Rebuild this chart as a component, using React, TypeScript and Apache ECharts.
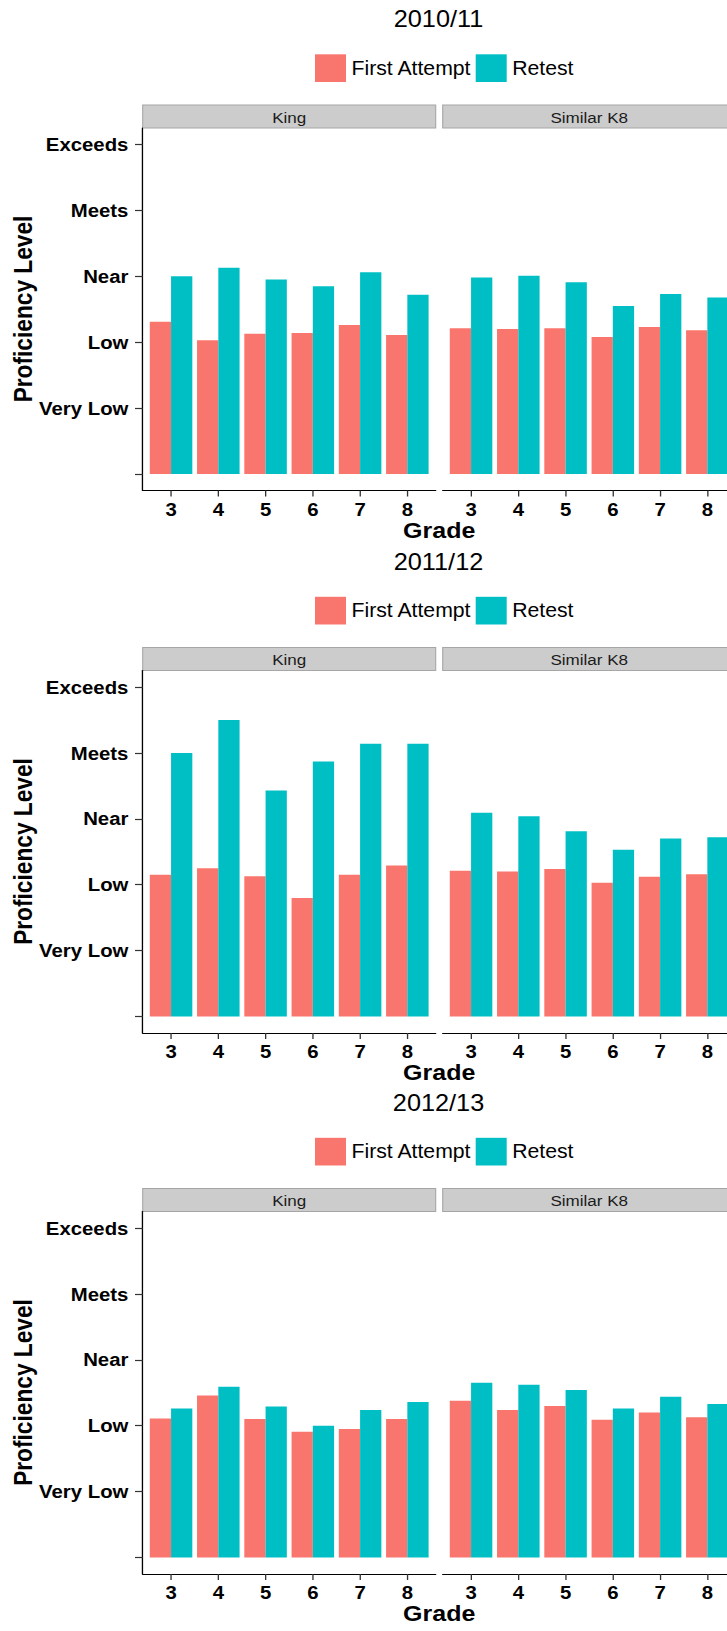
import React, { useEffect, useRef } from 'react';
import * as echarts from 'echarts';

// ---- data ----
const years = ['2010/11', '2011/12', '2012/13'];
const panels = ['King', 'Similar K8'];
const grades = [3, 4, 5, 6, 7, 8];
const levelValues = [0, 1, 2, 3, 4, 5];
const levelLabels = ['', 'Very Low', 'Low', 'Near', 'Meets', 'Exceeds'];
const seriesNames = ['First Attempt', 'Retest'];

const king1011First = [2.31, 2.03, 2.13, 2.14, 2.26, 2.11];
const king1011Retest = [3.0, 3.13, 2.95, 2.85, 3.06, 2.72];
const similar1011First = [2.21, 2.2, 2.21, 2.08, 2.23, 2.18];
const similar1011Retest = [2.98, 3.01, 2.91, 2.55, 2.73, 2.68];

const king1112First = [2.15, 2.25, 2.13, 1.8, 2.15, 2.29];
const king1112Retest = [4.0, 4.5, 3.43, 3.87, 4.14, 4.14];
const similar1112First = [2.21, 2.2, 2.24, 2.03, 2.12, 2.16];
const similar1112Retest = [3.09, 3.04, 2.81, 2.53, 2.7, 2.72];

const king1213First = [2.11, 2.46, 2.1, 1.91, 1.95, 2.1];
const king1213Retest = [2.26, 2.59, 2.29, 2.0, 2.24, 2.36];
const similar1213First = [2.38, 2.24, 2.3, 2.09, 2.2, 2.13];
const similar1213Retest = [2.65, 2.62, 2.54, 2.26, 2.44, 2.33];

const blockData = [
  [[king1011First, king1011Retest], [similar1011First, similar1011Retest]],
  [[king1112First, king1112Retest], [similar1112First, similar1112Retest]],
  [[king1213First, king1213Retest], [similar1213First, similar1213Retest]],
];

// ---- layout / style ----
const S = 1.1; // horizontal stretch of the reference image
const X = (v: number) => v / S;
const FONT = '"Liberation Sans", Arial, Helvetica, sans-serif';
const COLORS = ['#F8766D', '#00BFC4'];
const BLOCK_TOPS = [0, 542.5, 1083.5];
const PLOT_LEFT = [142.7, 442.7];
const PLOT_W = 293;
const PLOT_TOP = 128;
const PLOT_H = 362.5;
const X_MIN = 2.4;
const X_MAX = 8.6;

function buildOption() {
  const grid: any[] = [];
  const xAxis: any[] = [];
  const yAxis: any[] = [];
  const series: any[] = [];
  const legend: any[] = [];
  const graphic: any[] = [];
  const barWidth = X((PLOT_W / (X_MAX - X_MIN)) * 0.45);

  years.forEach((year, b) => {
    const T = BLOCK_TOPS[b];
    graphic.push({
      type: 'text',
      x: X(438.5),
      y: T + 19,
      style: { text: year, fontSize: 23, fontFamily: FONT, fill: '#000', align: 'center', verticalAlign: 'middle' },
    });
    graphic.push({
      type: 'text',
      x: X(23.3),
      y: T + 309,
      rotation: Math.PI / 2,
      style: { text: 'Proficiency Level', fontSize: 22.7, fontWeight: 'bold', fontFamily: FONT, fill: '#000', align: 'center', verticalAlign: 'middle' },
    });
    graphic.push({
      type: 'text',
      x: X(439.2),
      y: T + 529.5,
      style: { text: 'Grade', fontSize: 22.7, fontWeight: 'bold', fontFamily: FONT, fill: '#000', align: 'center', verticalAlign: 'middle' },
    });
    legend.push({
      left: X(315),
      top: T + 54.3,
      orient: 'horizontal',
      padding: 0,
      itemWidth: X(31),
      itemHeight: 27.7,
      itemGap: X(4),
      icon: 'rect',
      selectedMode: false,
      data: seriesNames,
      itemStyle: { borderWidth: 0 },
      textStyle: { fontSize: 19.3, color: '#000', fontFamily: FONT },
    });

    panels.forEach((panel, p) => {
      const idx = b * 2 + p;
      graphic.push({
        type: 'rect',
        shape: { x: X(PLOT_LEFT[p]), y: T + 105, width: X(PLOT_W), height: 23 },
        style: { fill: '#CCCCCC', stroke: '#A6A6A6', lineWidth: 1 },
      });
      graphic.push({
        type: 'text',
        x: X(PLOT_LEFT[p] + PLOT_W / 2),
        y: T + 116.8,
        style: { text: panel, fontSize: 15.5, fontFamily: FONT, fill: '#1A1A1A', align: 'center', verticalAlign: 'middle' },
      });
      grid.push({
        left: X(PLOT_LEFT[p]),
        top: T + PLOT_TOP,
        width: X(PLOT_W),
        height: PLOT_H,
        containLabel: false,
        outerBoundsMode: 'none',
      });
      xAxis.push({
        type: 'value',
        gridIndex: idx,
        min: X_MIN,
        max: X_MAX,
        splitLine: { show: false },
        axisLine: { show: true, onZero: false, lineStyle: { color: '#000', width: 1.2 } },
        axisTick: { show: true, length: 6, customValues: grades, lineStyle: { color: '#333', width: 1.2 } },
        axisLabel: {
          show: true,
          customValues: grades,
          margin: 9,
          fontSize: 18.5,
          fontWeight: 'bold',
          fontFamily: FONT,
          color: '#000',
          formatter: (v: number) => String(v),
        },
      });
      yAxis.push({
        type: 'value',
        gridIndex: idx,
        min: -0.25,
        max: 5.25,
        show: p === 0,
        splitLine: { show: false },
        axisLine: { show: true, onZero: false, lineStyle: { color: '#000', width: 1.2 } },
        axisTick: { show: true, length: 7, customValues: levelValues, lineStyle: { color: '#333', width: 1.2 } },
        axisLabel: {
          show: true,
          customValues: levelValues,
          margin: 13,
          fontSize: 18.5,
          fontWeight: 'bold',
          fontFamily: FONT,
          color: '#000',
          formatter: (v: number) => levelLabels[Math.round(v)] ?? '',
        },
      });
      seriesNames.forEach((name, s) => {
        const vals = blockData[b][p][s];
        series.push({
          name,
          type: 'bar',
          xAxisIndex: idx,
          yAxisIndex: idx,
          barWidth,
          barGap: '0%',
          itemStyle: { color: COLORS[s] },
          data: grades.map((g, i) => [g, vals[i]]),
        });
      });
    });
  });

  return {
    animation: false,
    backgroundColor: '#fff',
    textStyle: { fontFamily: FONT },
    grid,
    xAxis,
    yAxis,
    legend,
    series,
    graphic,
  };
}

export default function App() {
  const ref = useRef<HTMLDivElement>(null);
  useEffect(() => {
    document.body.style.margin = '0';
    if (!ref.current) return;
    const chart = echarts.init(ref.current, undefined, { renderer: 'svg' });
    chart.setOption(buildOption() as any);
    return () => chart.dispose();
  }, []);
  return (
    <div style={{ width: 727, height: 1631, overflow: 'hidden', position: 'relative', background: '#fff' }}>
      <div
        ref={ref}
        style={{ width: 680, height: 1631, transform: `scaleX(${S})`, transformOrigin: '0 0' }}
      />
    </div>
  );
}
